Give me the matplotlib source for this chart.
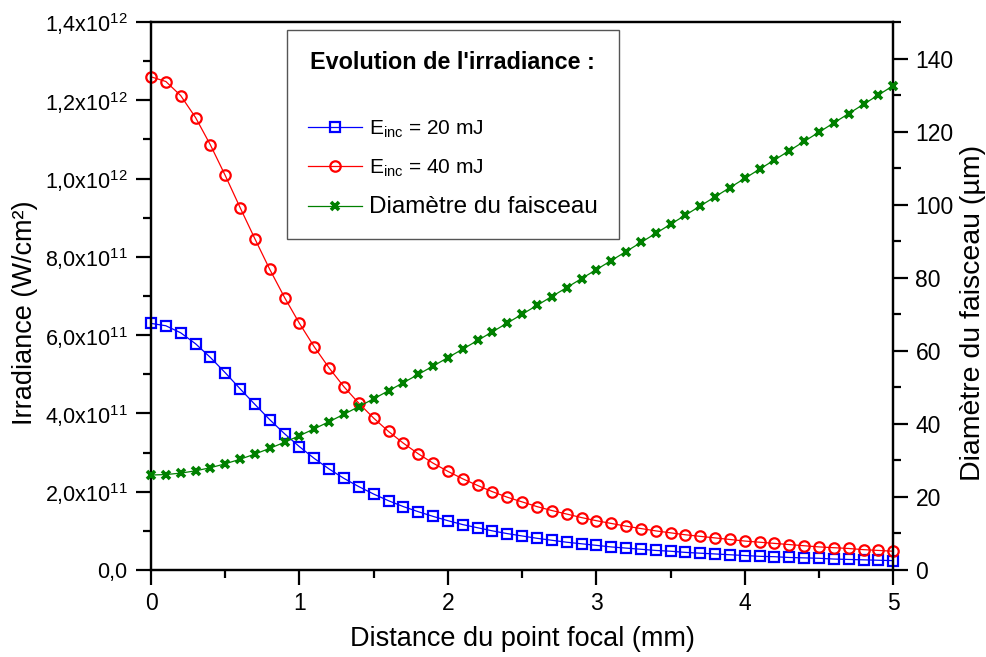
import numpy as np
import matplotlib
matplotlib.use('Agg')
import matplotlib.pyplot as plt
from matplotlib.ticker import MultipleLocator, FuncFormatter
from matplotlib.lines import Line2D

plt.rcParams['font.family'] = ['Liberation Sans', 'DejaVu Sans']
plt.rcParams['mathtext.default'] = 'regular'

# distance au point focal (mm)
distance = [0.0, 0.1, 0.2, 0.3, 0.4, 0.5, 0.6, 0.7, 0.8, 0.9,
            1.0, 1.1, 1.2, 1.3, 1.4, 1.5, 1.6, 1.7, 1.8, 1.9,
            2.0, 2.1, 2.2, 2.3, 2.4, 2.5, 2.6, 2.7, 2.8, 2.9,
            3.0, 3.1, 3.2, 3.3, 3.4, 3.5, 3.6, 3.7, 3.8, 3.9,
            4.0, 4.1, 4.2, 4.3, 4.4, 4.5, 4.6, 4.7, 4.8, 4.9, 5.0]

# irradiance en unités de 1e11 W/cm²
irr_20mJ = [6.30, 6.24, 6.06, 5.78, 5.43, 5.04, 4.63, 4.23, 3.84, 3.48,
            3.15, 2.85, 2.58, 2.34, 2.13, 1.94, 1.77, 1.62, 1.49, 1.37,
            1.26, 1.16, 1.08, 1.00, 0.93, 0.87, 0.81, 0.76, 0.71, 0.67,
            0.63, 0.59, 0.56, 0.53, 0.50, 0.48, 0.45, 0.43, 0.41, 0.39,
            0.37, 0.35, 0.34, 0.32, 0.31, 0.30, 0.28, 0.27, 0.26, 0.25, 0.24]
irr_40mJ = [12.60, 12.48, 12.12, 11.56, 10.86, 10.08, 9.26, 8.46, 7.68, 6.96,
            6.30, 5.70, 5.16, 4.68, 4.26, 3.88, 3.54, 3.24, 2.97, 2.73,
            2.52, 2.33, 2.16, 2.00, 1.86, 1.74, 1.62, 1.52, 1.43, 1.34,
            1.26, 1.19, 1.12, 1.06, 1.00, 0.95, 0.90, 0.86, 0.82, 0.78,
            0.74, 0.71, 0.68, 0.65, 0.62, 0.59, 0.57, 0.55, 0.52, 0.50, 0.48]

# diamètre du faisceau (µm)
diametre = [26.00, 26.13, 26.52, 27.15, 28.00, 29.07, 30.32, 31.74, 33.30, 34.98,
            36.77, 38.65, 40.61, 42.64, 44.73, 46.87, 49.06, 51.28, 53.54, 55.82,
            58.14, 60.47, 62.83, 65.21, 67.60, 70.01, 72.43, 74.86, 77.30, 79.76,
            82.22, 84.69, 87.17, 89.65, 92.14, 94.64, 97.14, 99.65, 102.16, 104.68,
            107.20, 109.73, 112.25, 114.78, 117.32, 119.85, 122.39, 124.93, 127.48, 130.03, 132.57]

BLUE = '#0000ff'
RED = '#ff0000'
GREEN = '#008000'


def sci_fmt(v, pos):
    if v < 0:
        return ''
    if v < 1:
        return '0,0'
    exp = int(np.floor(np.log10(v) + 1e-9))
    mant = v / 10 ** exp
    return f'{mant:.1f}'.replace('.', ',') + 'x10$^{%d}$' % exp


fig = plt.figure(figsize=(9.87, 6.57), dpi=100)
ax = fig.add_axes([0.153, 0.1324, 0.752, 0.8341])
ax2 = ax.twinx()

x = np.array(distance)
ax.plot(x, np.array(irr_20mJ) * 1e11, color=BLUE, lw=0.9, marker='s', ms=6.5,
        mfc='none', mec=BLUE, mew=1.6, clip_on=False, zorder=3)
ax.plot(x, np.array(irr_40mJ) * 1e11, color=RED, lw=0.9, marker='o', ms=7.5,
        mfc='none', mec=RED, mew=1.6, clip_on=False, zorder=3)
ax2.plot(x, diametre, color=GREEN, lw=0.9, marker='x', ms=6, mew=2.6,
         clip_on=False, zorder=3)

ax.set_xlim(0, 5)
ax.set_ylim(0, 1.4e12)
ax2.set_ylim(0, 150)

ax.xaxis.set_major_locator(MultipleLocator(1))
ax.xaxis.set_minor_locator(MultipleLocator(0.5))
ax.yaxis.set_major_locator(MultipleLocator(2e11))
ax.yaxis.set_minor_locator(MultipleLocator(1e11))
ax.yaxis.set_major_formatter(FuncFormatter(sci_fmt))
ax2.set_yticks([0, 20, 40, 60, 80, 100, 120, 140])
ax2.yaxis.set_minor_locator(MultipleLocator(10))

for a in (ax, ax2):
    for s in a.spines.values():
        s.set_linewidth(1.6)
    a.tick_params(which='major', direction='out', length=11, width=1.6,
                  labelsize=16.5, pad=5)
    a.tick_params(which='minor', direction='out', length=6, width=1.6)
ax.tick_params(which='both', top=False, right=False)
ax.tick_params(axis='x', pad=5)
ax.tick_params(axis='y', labelsize=15.5, pad=6)

ax.set_xlabel('Distance du point focal (mm)', fontsize=19.5, labelpad=8)
ax.set_ylabel('Irradiance (W/cm²)', fontsize=19.5)
ax.yaxis.set_label_coords(-0.152, 0.469)
ax2.set_ylabel('Diamètre du faisceau (µm)', fontsize=20.5)
ax2.yaxis.set_label_coords(1.090, 0.469)

handles = [
    Line2D([0], [0], color=BLUE, lw=0.9, marker='s', ms=6.5, mfc='none', mew=1.6),
    Line2D([0], [0], color=RED, lw=0.9, marker='o', ms=7.5, mfc='none', mew=1.6),
    Line2D([0], [0], color=GREEN, lw=0.9, marker='x', ms=6, mew=2.6),
]
labels = ['E$_{inc}$ = 20 mJ', 'E$_{inc}$ = 40 mJ', 'Diamètre du faisceau']
leg = ax2.legend(handles, labels, title="Evolution de l'irradiance :\n",
                 loc='upper left', bbox_to_anchor=(0.183, 0.985),
                 borderaxespad=0, fancybox=False, edgecolor='#555555',
                 framealpha=1, handlelength=2.6, handletextpad=0.35,
                 labelspacing=0.85, borderpad=1.0, fontsize=15)
leg.get_frame().set_linewidth(1.0)
leg.get_title().set_fontweight('bold')
leg.get_title().set_fontsize(16.8)
leg.get_texts()[2].set_fontsize(17.5)

fig.savefig('out.png', dpi=100)
